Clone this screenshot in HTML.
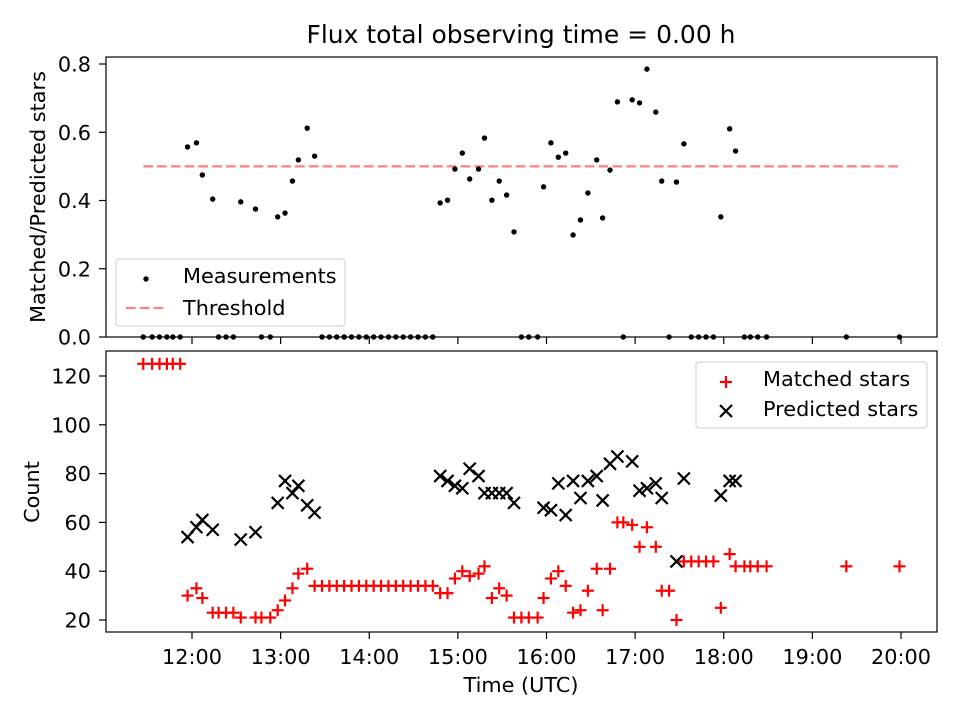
<!DOCTYPE html>
<html><head><meta charset="utf-8"><style>
body{margin:0;background:#fff}
svg{display:block;font-family:"DejaVu Sans","Liberation Sans",sans-serif}
</style></head><body>
<svg id="c" width="960" height="720" xmlns="http://www.w3.org/2000/svg"></svg>
<script>
const xTicks=["12:00","13:00","14:00","15:00","16:00","17:00","18:00","19:00","20:00"];
const topTicks=[0,0.2,0.4,0.6,0.8];
const botTicks=[20,40,60,80,100,120];
const threshold=0.5;
const threshRange=["11:27","19:59"];
const matchedTimes=["11:27","11:33","11:38","11:43","11:47","11:52","11:57","12:03","12:07","12:14","12:18","12:23","12:28","12:33","12:43","12:47","12:53","12:58","13:03","13:08","13:12","13:18",
"13:23","13:28","13:33","13:38","13:43","13:48","13:53","13:58","14:03","14:08","14:13","14:18","14:23","14:28","14:33","14:38","14:43",
"14:48","14:53","14:58","15:03","15:08","15:14","15:18","15:23","15:28","15:33","15:38","15:43","15:48","15:54",
"15:58","16:03","16:08","16:13","16:18","16:23","16:28","16:34","16:38","16:43","16:48","16:52","16:58","17:03","17:08","17:14",
"17:18","17:23","17:28","17:33","17:38","17:43","17:48","17:53","17:58","18:04","18:08","18:14","18:18","18:23","18:29","19:23","19:59"];
const matched=[125,125,125,125,125,125,30,33,29,23,23,23,23,21,21,21,21,24,28,33,39,41,
34,34,34,34,34,34,34,34,34,34,34,34,34,34,34,34,34,
31,31,37,40,38,39,42,29,33,30,21,21,21,21,
29,37,40,34,23,24,32,41,24,41,60,60,59,50,58,50,
32,32,20,44,44,44,44,44,25,47,42,42,42,42,42,42,42];
const predTimes=["11:57","12:03","12:07","12:14","12:33","12:43","12:58","13:03","13:08","13:12","13:18","13:23","14:48","14:53","14:58","15:03","15:08","15:14","15:18","15:23","15:28","15:33","15:38","15:58","16:03","16:08","16:13","16:18","16:23","16:28","16:34","16:38","16:43","16:48","16:58","17:03","17:08","17:14","17:18","17:28","17:33","17:58","18:04","18:08"];
const predicted=[54,58,61,57,53,56,68,77,72,75,67,64,79,77,75,74,82,79,72,72,72,72,68,66,65,76,63,77,70,77,79,69,84,87,85,73,74,76,70,44,78,71,77,77];
const ratioTimes=["11:27","11:33","11:38","11:43","11:47","11:52","11:57","12:03","12:07","12:14","12:18","12:23","12:28","12:33","12:43","12:47","12:53","12:58","13:03","13:08","13:12","13:18","13:23",
"13:28","13:33","13:38","13:43","13:48","13:53","13:58","14:03","14:08","14:13","14:18","14:23","14:28","14:33","14:38","14:43",
"14:48","14:53","14:58","15:03","15:08","15:14","15:18","15:23","15:28","15:33","15:38","15:43","15:48","15:54",
"15:58","16:03","16:08","16:13","16:18","16:23","16:28","16:34","16:38","16:43","16:48","16:52","16:58","17:03","17:08","17:14","17:18","17:23","17:28","17:33","17:38","17:43","17:48","17:53","17:58","18:04","18:08","18:14","18:18","18:23","18:29","19:23","19:59"];
const ratio=[0,0,0,0,0,0,.557,.569,.475,.404,0,0,0,.396,.375,0,0,.352,.363,.457,.519,.612,.530,
0,0,0,0,0,0,0,0,0,0,0,0,0,0,0,0,
.393,.401,.492,.539,.463,.492,.583,.401,.457,.416,.308,0,0,0,
.440,.569,.527,.539,.299,.343,.422,.519,.349,.489,.689,0,.695,.686,.785,.659,.457,0,.454,.566,0,0,0,0,.352,.610,.545,0,0,0,0,0,0];

const svg=document.getElementById('c');
const NS="http://www.w3.org/2000/svg";
const FS=20.8;
function mk(tag,attrs,parent){const e=document.createElementNS(NS,tag);for(const k in attrs)e.setAttribute(k,attrs[k]);(parent||svg).appendChild(e);return e;}
function hrs(s){const p=s.split(':');return +p[0]+p[1]/60;}
const L=106,R=937;
const x=t=>192+(hrs(t)-12)*88.625;
const yTop=v=>337-v*341.25;
const yBot=v=>620-(v-20)*2.44;

let t=mk('text',{x:521,y:43,'font-size':25,'text-anchor':'middle',fill:'#000'});
t.textContent="Flux total observing time = 0.00 h";



function frame(y0,y1,name){
  const r=mk('rect',{x:L,y:y0,width:R-L,height:y1-y0,fill:'none',stroke:'#000','stroke-width':1.2});
  
  
}
const gT=mk('g',{});


frame(57,337,'ratio-axes-frame');
topTicks.forEach(v=>{
  const y=yTop(v);
  mk('line',{x1:L-7,x2:L,y1:y,y2:y,stroke:'#000','stroke-width':1.2},gT);
  const e=mk('text',{x:L-15,y:y+7.5,'font-size':FS,'text-anchor':'end'},gT);
  e.textContent=v.toFixed(1);
  
  
});
xTicks.forEach(s=>{mk('line',{x1:x(s),x2:x(s),y1:337,y2:344,stroke:'#000','stroke-width':1.2},gT);});
let yl=mk('text',{x:0,y:0,'font-size':FS,'text-anchor':'middle',transform:'translate(45,197) rotate(-90)'});
yl.textContent="Matched/Predicted stars";


let th=mk('line',{x1:x(threshRange[0]),x2:x(threshRange[1]),y1:yTop(threshold),y2:yTop(threshold),stroke:'#ff7f7f','stroke-width':2.2,'stroke-dasharray':'9.6,4.2'});


ratioTimes.forEach((s,i)=>{
  const c=mk('circle',{cx:x(s),cy:yTop(ratio[i]),r:2.7,fill:'#000'});
  
  
});
const lg1=mk('g',{});


mk('rect',{x:116,y:259,width:229,height:67,rx:3,fill:'#fff','fill-opacity':0.8,stroke:'#ccc'},lg1);
mk('circle',{cx:146,cy:279,r:2.7,fill:'#000'},lg1);
let e1=mk('text',{x:183,y:283,'font-size':FS},lg1);e1.textContent="Measurements";
mk('line',{x1:126,x2:166,y1:308,y2:308,stroke:'#ff7f7f','stroke-width':2.2,'stroke-dasharray':'9.6,4.2'},lg1);
let e2=mk('text',{x:183,y:315,'font-size':FS},lg1);e2.textContent="Threshold";

const gB=mk('g',{});


frame(351,632,'count-axes-frame');
botTicks.forEach(v=>{
  const y=yBot(v);
  mk('line',{x1:L-7,x2:L,y1:y,y2:y,stroke:'#000','stroke-width':1.2},gB);
  const e=mk('text',{x:L-15,y:y+7.5,'font-size':FS,'text-anchor':'end'},gB);
  e.textContent=v;
  
  
});
xTicks.forEach(s=>{
  mk('line',{x1:x(s),x2:x(s),y1:632,y2:639,stroke:'#000','stroke-width':1.2},gB);
  const e=mk('text',{x:x(s),y:664,'font-size':FS,'text-anchor':'middle'},gB);
  e.textContent=s;
  
  
});
let xl=mk('text',{x:521,y:692,'font-size':FS,'text-anchor':'middle'});
xl.textContent="Time (UTC)";


let cl=mk('text',{x:0,y:0,'font-size':FS,'text-anchor':'middle',transform:'translate(39,492) rotate(-90)'});
cl.textContent="Count";



function plus(cx,cy,parent){const g=mk('g',{stroke:'#f00','stroke-width':2.2},parent);mk('line',{x1:cx-6,x2:cx+6,y1:cy,y2:cy},g);mk('line',{x1:cx,x2:cx,y1:cy-6,y2:cy+6},g);return g;}
function cross(cx,cy,parent){const g=mk('g',{stroke:'#000','stroke-width':2.2},parent);mk('line',{x1:cx-6,x2:cx+6,y1:cy-6,y2:cy+6},g);mk('line',{x1:cx-6,x2:cx+6,y1:cy+6,y2:cy-6},g);return g;}
matchedTimes.forEach((s,i)=>{
  const g=plus(x(s),yBot(matched[i]));
  
  
});
predTimes.forEach((s,i)=>{
  const g=cross(x(s),yBot(predicted[i]));
  
  
});
const lg2=mk('g',{});


mk('rect',{x:696,y:362,width:231,height:66,rx:3,fill:'#fff','fill-opacity':0.8,stroke:'#ccc'},lg2);
plus(726,382,lg2);
let e3=mk('text',{x:763,y:386,'font-size':FS},lg2);e3.textContent="Matched stars";
cross(726,411,lg2);
let e4=mk('text',{x:763,y:416,'font-size':FS},lg2);e4.textContent="Predicted stars";
</script>
</body></html>
